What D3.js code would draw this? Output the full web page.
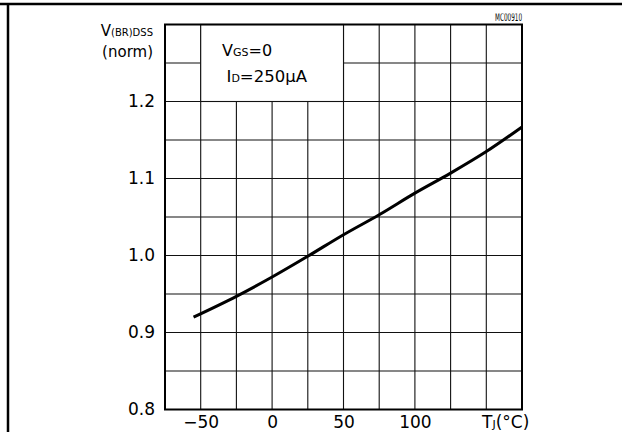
<!DOCTYPE html>
<html><head><meta charset="utf-8">
<script src="https://cdn.jsdelivr.net/npm/d3@7/dist/d3.min.js"></script>
<style>body{margin:0;background:#fff}svg{display:block}text{font-family:"DejaVu Sans",sans-serif;fill:#000}</style>
</head><body>
<script>
// Data
const temps = [-55, -25, 0, 25, 50, 75, 100, 125, 150, 175];
const vbr   = [0.920, 0.947, 0.972, 0.999, 1.027, 1.053, 1.081, 1.107, 1.135, 1.167];
const xTicks = [-50, 0, 50, 100];
const yTicks = [0.8, 0.9, 1.0, 1.1, 1.2];
const xGrid = [-50, -25, 0, 25, 50, 75, 100, 125, 150];
const yGrid = [0.85, 0.9, 0.95, 1.0, 1.05, 1.1, 1.15, 1.2, 1.25];

const W = 622, H = 432;
const FONT = "DejaVu Sans, sans-serif";
const svg = d3.select("body").append("svg").attr("width", W).attr("height", H);

const x = d3.scaleLinear().domain([-75, 175]).range([165, 522]);
const y = d3.scaleLinear().domain([0.8, 1.3]).range([409.5, 24.5]);

// outer frame
svg.append("line").attr("x1", 0).attr("x2", W).attr("y1", 4).attr("y2", 4).attr("stroke", "#000").attr("stroke-width", 2.5);
svg.append("line").attr("x1", 8).attr("x2", 8).attr("y1", 3).attr("y2", H).attr("stroke", "#000").attr("stroke-width", 2.5);

// grid
const g = svg.append("g");
g.selectAll("line.v").data(xGrid).join("line").attr("class", "v")
  .attr("x1", d => x(d)).attr("x2", d => x(d)).attr("y1", y(0.8)).attr("y2", y(1.3))
  .attr("stroke", "#111").attr("stroke-width", 1.1);
g.selectAll("line.h").data(yGrid).join("line").attr("class", "h")
  .attr("x1", x(-75)).attr("x2", x(175)).attr("y1", d => y(d)).attr("y2", d => y(d))
  .attr("stroke", "#111").attr("stroke-width", 1.1);

// legend box (blank cell)
g.append("rect").attr("x", x(-50)).attr("y", y(1.3)).attr("width", x(50) - x(-50)).attr("height", y(1.2) - y(1.3))
  .attr("fill", "#fff").attr("stroke", "#111").attr("stroke-width", 1.1);

// plot border
svg.append("rect").attr("x", x(-75)).attr("y", y(1.3)).attr("width", x(175) - x(-75)).attr("height", y(0.8) - y(1.3))
  .attr("fill", "none").attr("stroke", "#000").attr("stroke-width", 2);

// curve
svg.append("path").datum(temps.map((t, i) => [t, vbr[i]]))
  .attr("d", d3.line().x(d => x(d[0])).y(d => y(d[1])).curve(d3.curveMonotoneX))
  .attr("fill", "none").attr("stroke", "#000").attr("stroke-width", 3);

// axes
const ya = svg.append("g").attr("transform", `translate(${x(-75)},0)`)
  .call(d3.axisLeft(y).tickValues(yTicks).tickFormat(d3.format(".1f")).tickSize(0).tickPadding(10));
ya.select(".domain").remove();
ya.selectAll("text").attr("font-size", 17).attr("font-family", FONT);

const xa = svg.append("g").attr("transform", `translate(0,${y(0.8)})`)
  .call(d3.axisBottom(x).tickValues(xTicks).tickSize(0).tickPadding(6.4));
xa.select(".domain").remove();
xa.selectAll("text").attr("font-size", 17).attr("font-family", FONT);

// x axis title
const xt = svg.append("text").attr("x", 482).attr("y", 428).attr("font-size", 17);
xt.append("tspan").text("T");
xt.append("tspan").attr("font-size", 11).text("J");
xt.append("tspan").text("(°C)");

// y axis title
const yt = svg.append("text").attr("x", 153).attr("y", 36).attr("text-anchor", "end").attr("font-size", 15);
yt.append("tspan").text("V");
yt.append("tspan").attr("font-size", 10).text("(BR)DSS");
svg.append("text").attr("x", 153).attr("y", 57).attr("text-anchor", "end").attr("font-size", 15).text("(norm)");

// condition annotation
const a1 = svg.append("text").attr("x", 222).attr("y", 56).attr("font-size", 16);
a1.append("tspan").text("V");
a1.append("tspan").attr("font-size", 11).text("GS");
a1.append("tspan").text("=0");
const a2 = svg.append("text").attr("x", 226.5).attr("y", 82).attr("font-size", 16.5);
a2.append("tspan").text("I");
a2.append("tspan").attr("font-size", 11).text("D");
a2.append("tspan").text("=250μA");

// figure code, top partly clipped
svg.append("clipPath").attr("id", "mc").append("rect").attr("x", 480).attr("y", 13.5).attr("width", 60).attr("height", 10);
svg.append("text").attr("x", 495).attr("y", 20.5).attr("font-size", 10)
  .attr("textLength", 27).attr("lengthAdjust", "spacingAndGlyphs").attr("clip-path", "url(#mc)").text("MC00910");
</script>
</body></html>
